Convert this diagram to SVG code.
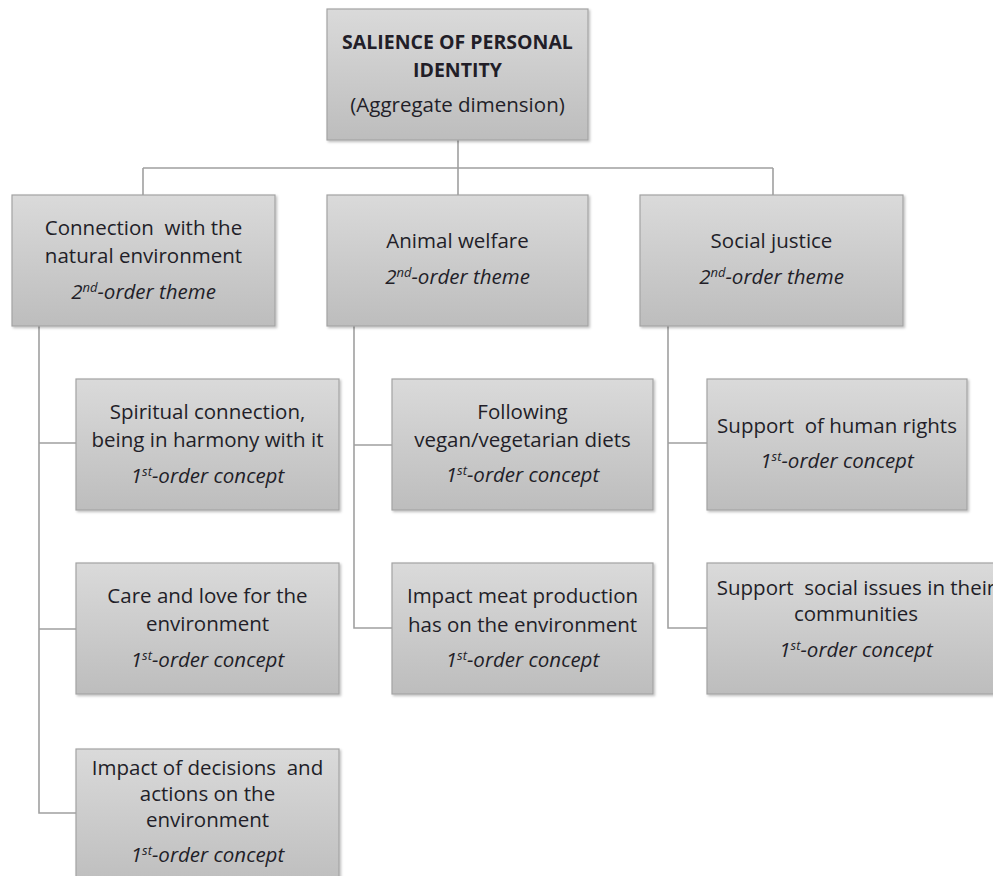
<svg xmlns="http://www.w3.org/2000/svg" width="993" height="876" viewBox="0 0 993 876">
  <defs>
    <linearGradient id="boxFill" x1="0" y1="0" x2="0" y2="1">
      <stop offset="0" stop-color="#dadada"/>
      <stop offset="1" stop-color="#bdbdbd"/>
    </linearGradient>
    <filter id="shadow" x="-5%" y="-5%" width="110%" height="115%">
      <feDropShadow dx="1.5" dy="1.5" stdDeviation="1" flood-color="#000" flood-opacity="0.25"/>
    </filter>
  </defs>
  <style>
    .box { fill: url(#boxFill); stroke: #a3a3a3; stroke-width: 1.2; filter: url(#shadow); }
    .link { fill: none; stroke: #a0a0a0; stroke-width: 1.6; }
    text { font-family: "Open Sans", "Liberation Sans", sans-serif; font-size: 20.5px; fill: #221e28; text-anchor: middle; }
    .title { font-weight: bold; font-size: 19.5px; }
    .kind { font-style: italic; }
    .sup { font-size: 13px; }
  </style>

  <rect width="993" height="876" fill="#ffffff"/>

  <!-- connectors -->
  <g id="connectors">
    <path class="link" d="M458 140 V168 M143 168 H773 M143 168 V195 M458 168 V195 M773 168 V195"/>
    <path class="link" d="M39 326 V813 H76 M39 443 H76 M39 629 H76"/>
    <path class="link" d="M354 326 V628 H392 M354 445 H392"/>
    <path class="link" d="M668 326 V628 H707 M668 443 H707"/>
  </g>

  <!-- aggregate dimension -->
  <g id="salience">
    <rect class="box" x="327" y="9" width="261" height="131"/>
    <text class="title" x="457.5" y="49">SALIENCE OF PERSONAL</text>
    <text class="title" x="457.5" y="77">IDENTITY</text>
    <text x="457.5" y="112">(Aggregate dimension)</text>
  </g>

  <!-- 2nd-order themes -->
  <g id="theme-nature">
    <rect class="box" x="12" y="195" width="263" height="131"/>
    <text x="143.5" y="235" xml:space="preserve">Connection  with the</text>
    <text x="143.5" y="263">natural environment</text>
    <text class="kind" x="143.5" y="299">2<tspan class="sup" dy="-7">nd</tspan><tspan dy="7">-order theme</tspan></text>
  </g>
  <g id="theme-animal">
    <rect class="box" x="327" y="195" width="261" height="131"/>
    <text x="457.5" y="248">Animal welfare</text>
    <text class="kind" x="457.5" y="284">2<tspan class="sup" dy="-7">nd</tspan><tspan dy="7">-order theme</tspan></text>
  </g>
  <g id="theme-justice">
    <rect class="box" x="640" y="195" width="263" height="131"/>
    <text x="771.5" y="248">Social justice</text>
    <text class="kind" x="771.5" y="284">2<tspan class="sup" dy="-7">nd</tspan><tspan dy="7">-order theme</tspan></text>
  </g>

  <!-- 1st-order concepts: natural environment -->
  <g id="concept-spiritual">
    <rect class="box" x="76" y="379" width="263" height="131"/>
    <text x="207.5" y="419">Spiritual connection,</text>
    <text x="207.5" y="447">being in harmony with it</text>
    <text class="kind" x="207.5" y="483">1<tspan class="sup" dy="-7">st</tspan><tspan dy="7">-order concept</tspan></text>
  </g>
  <g id="concept-care">
    <rect class="box" x="76" y="563" width="263" height="131"/>
    <text x="207.5" y="603">Care and love for the</text>
    <text x="207.5" y="631">environment</text>
    <text class="kind" x="207.5" y="667">1<tspan class="sup" dy="-7">st</tspan><tspan dy="7">-order concept</tspan></text>
  </g>
  <g id="concept-decisions">
    <rect class="box" x="76" y="749" width="263" height="140"/>
    <text x="207.5" y="775" xml:space="preserve">Impact of decisions  and</text>
    <text x="207.5" y="801">actions on the</text>
    <text x="207.5" y="827">environment</text>
    <text class="kind" x="207.5" y="862">1<tspan class="sup" dy="-7">st</tspan><tspan dy="7">-order concept</tspan></text>
  </g>

  <!-- 1st-order concepts: animal welfare -->
  <g id="concept-diets">
    <rect class="box" x="392" y="379" width="261" height="131"/>
    <text x="522.5" y="419">Following</text>
    <text x="522.5" y="447">vegan/vegetarian diets</text>
    <text class="kind" x="522.5" y="482">1<tspan class="sup" dy="-7">st</tspan><tspan dy="7">-order concept</tspan></text>
  </g>
  <g id="concept-meat">
    <rect class="box" x="392" y="563" width="261" height="131"/>
    <text x="522.5" y="603">Impact meat production</text>
    <text x="522.5" y="632">has on the environment</text>
    <text class="kind" x="522.5" y="667">1<tspan class="sup" dy="-7">st</tspan><tspan dy="7">-order concept</tspan></text>
  </g>

  <!-- 1st-order concepts: social justice -->
  <g id="concept-rights">
    <rect class="box" x="707" y="379" width="260" height="131"/>
    <text x="837" y="433" xml:space="preserve">Support  of human rights</text>
    <text class="kind" x="837" y="468">1<tspan class="sup" dy="-7">st</tspan><tspan dy="7">-order concept</tspan></text>
  </g>
  <g id="concept-communities">
    <rect class="box" x="707" y="563" width="298" height="131"/>
    <text x="856" y="595" xml:space="preserve">Support  social issues in their</text>
    <text x="856" y="621">communities</text>
    <text class="kind" x="856" y="657">1<tspan class="sup" dy="-7">st</tspan><tspan dy="7">-order concept</tspan></text>
  </g>
</svg>
